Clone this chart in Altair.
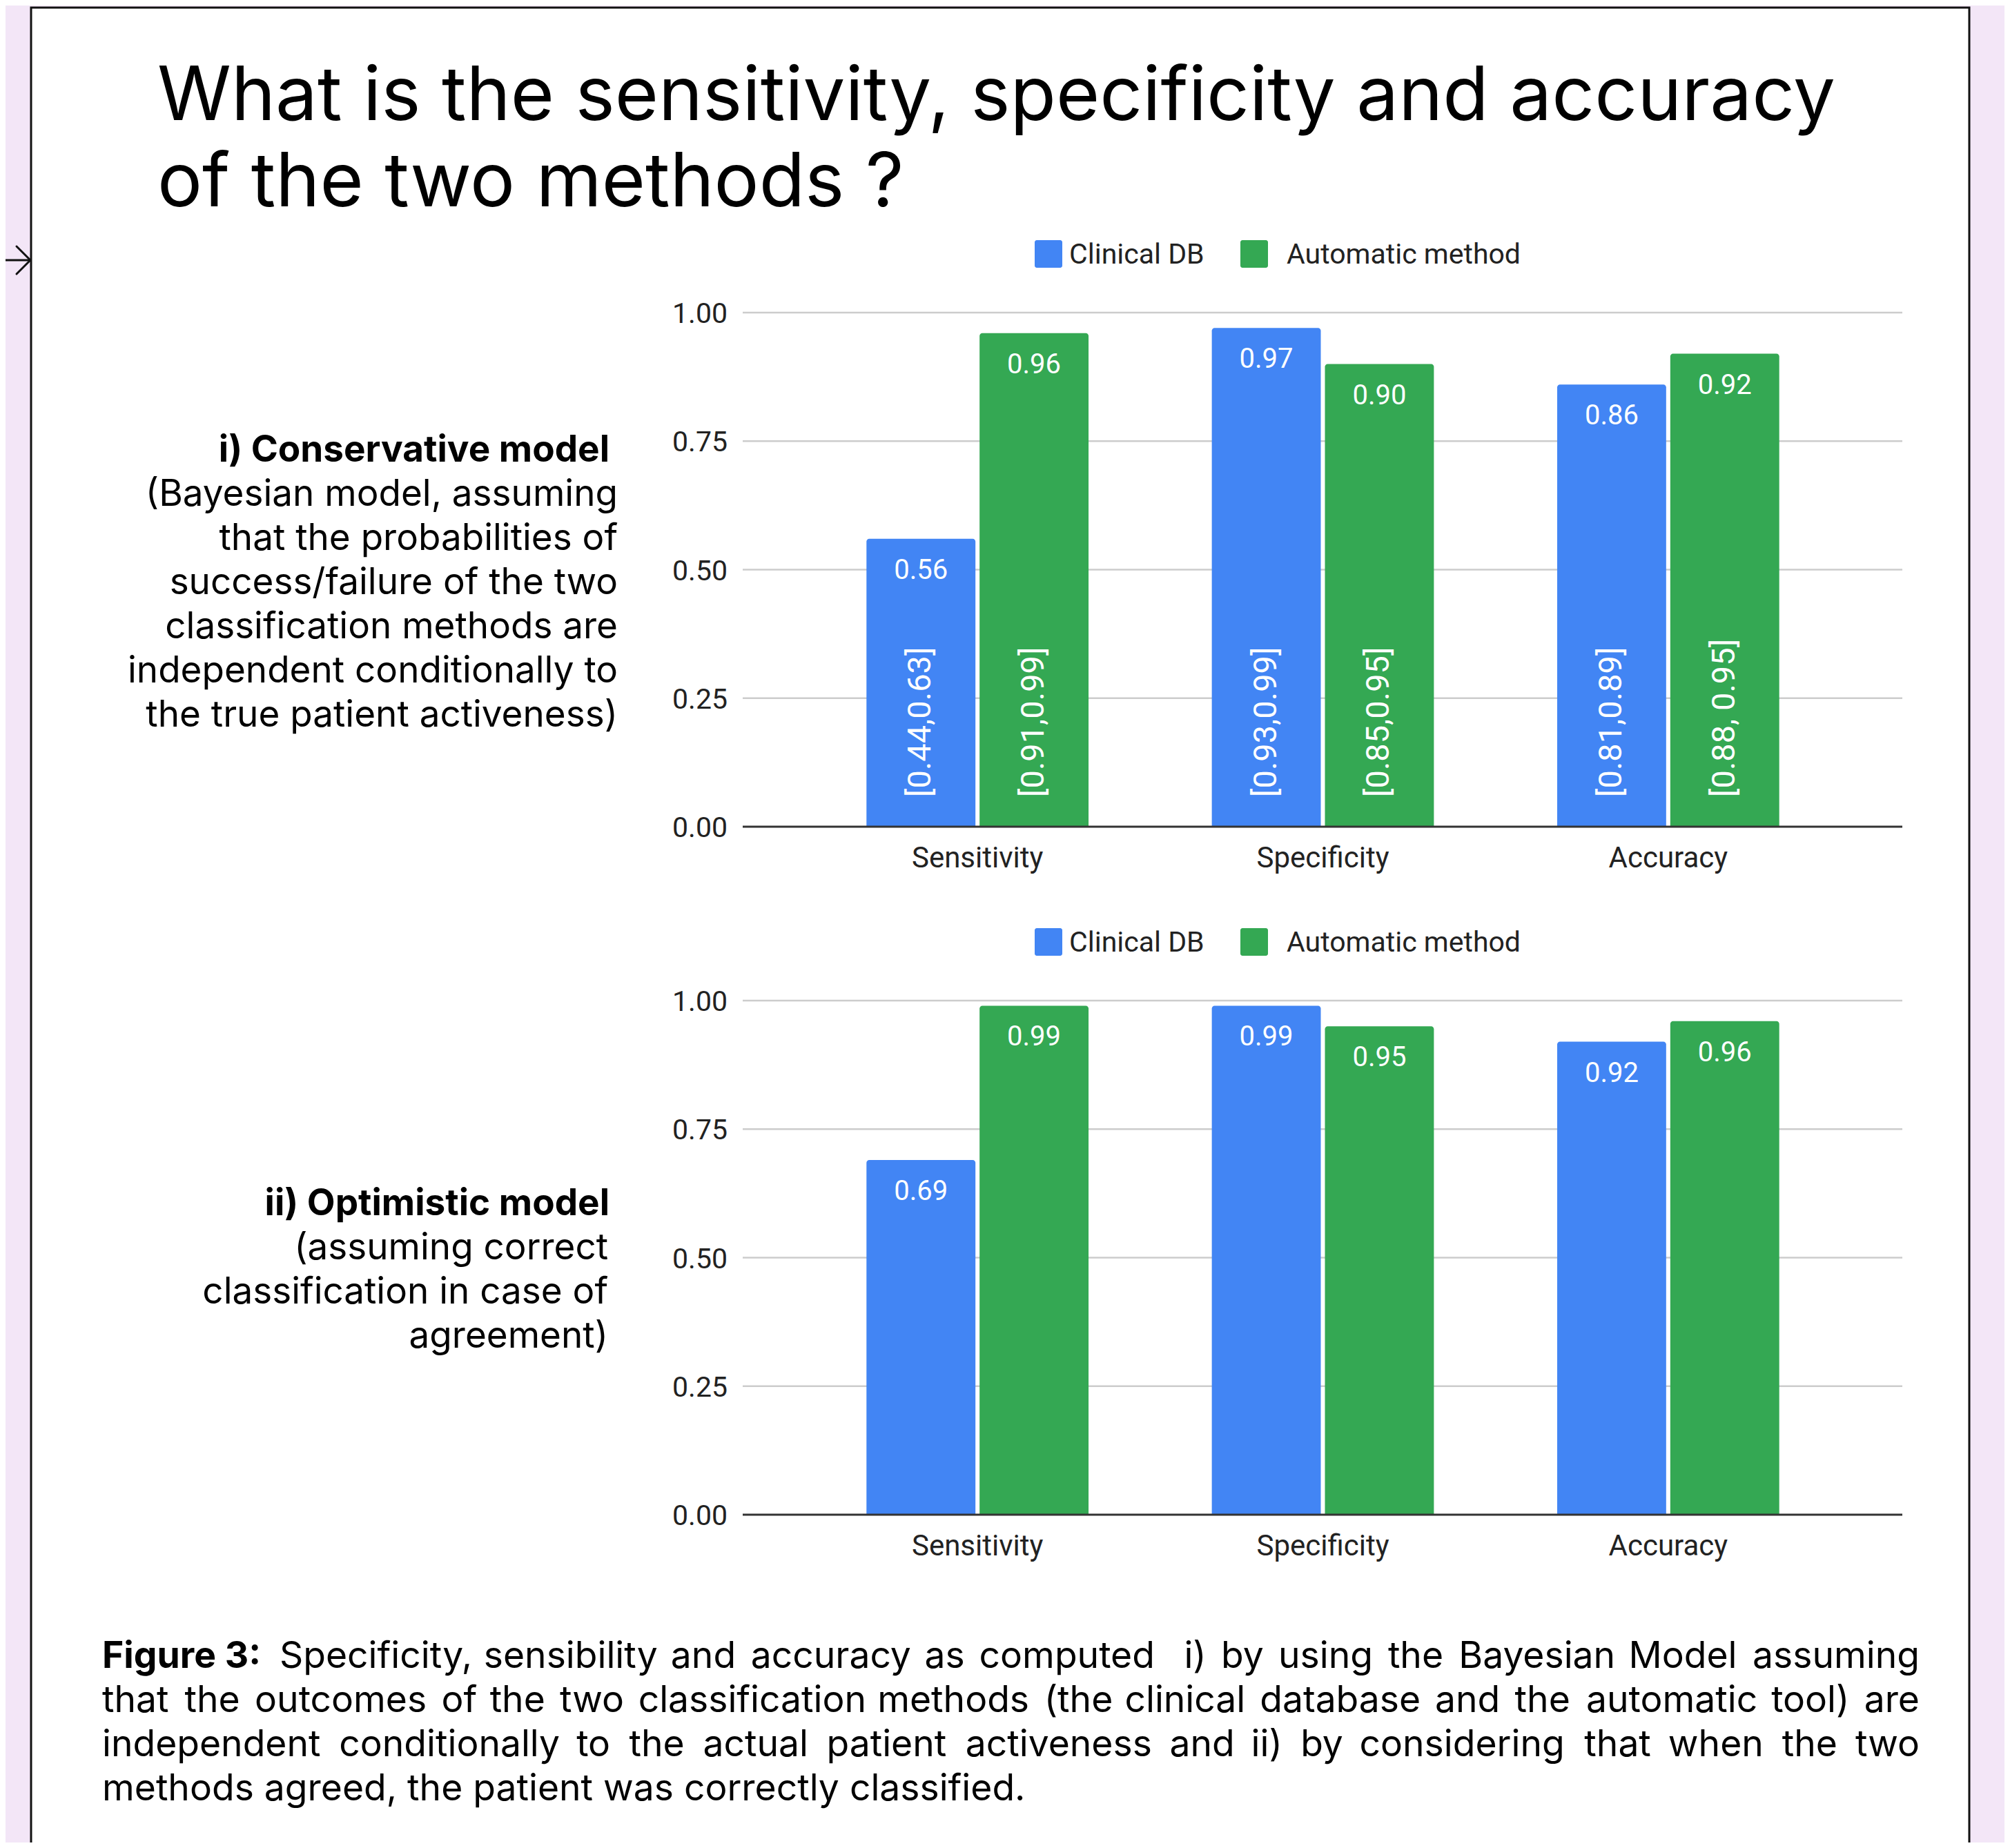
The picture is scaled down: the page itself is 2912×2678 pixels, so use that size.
import altair as alt
import pandas as pd

# ---------------- data ----------------
categories = ["Sensitivity", "Specificity", "Accuracy"]
methods = ["Clinical DB", "Automatic method"]

cons_clinical = [0.56, 0.97, 0.86]
cons_auto = [0.96, 0.90, 0.92]
cons_ci_clinical = ["[0.44,0.63]", "[0.93,0.99]", "[0.81,0.89]"]
cons_ci_auto = ["[0.91,0.99]", "[0.85,0.95]", "[0.88, 0.95]"]

opt_clinical = [0.69, 0.99, 0.92]
opt_auto = [0.99, 0.95, 0.96]

tick_values = [0.0, 0.25, 0.5, 0.75, 1.0]
tick_labels = ["0.00", "0.25", "0.50", "0.75", "1.00"]

title_lines = ["What is the sensitivity, specificity and accuracy",
               "of the two methods ?"]
cons_head = "i) Conservative model"
cons_body = ["(Bayesian model, assuming",
             "that the probabilities of",
             "success/failure of the two",
             "classification methods are",
             "independent conditionally to",
             "the true patient activeness)"]
opt_head = "ii) Optimistic model"
opt_body = ["(assuming correct",
            "classification in case of",
            "agreement)"]
caption_bold = "Figure 3:"
caption_first = "Specificity, sensibility and accuracy as computed  i) by using the Bayesian Model assuming"
caption_mid = ["that the outcomes of the two classification methods (the clinical database and the automatic tool) are",
               "independent conditionally to the actual patient activeness and ii) by considering that when the two"]
caption_last = "methods agreed, the patient was correctly classified."

# ---------------- layout / style ----------------
OFF = 8  # page margin
W, H = 2896, 2662
BLUE, GREEN = "#4285F4", "#34A853"
BG = "#f3e6f7"
SLIDE_FONT = "Inter"
CHART_FONT = "Roboto"
CAP_FS = 53.4

GX0, GX1 = 1076, 2756          # gridline extent
BAND_L, BAND_R = 1166, 2667    # category band range
PI, PO = 0.357, 0.1785
OFF_PI = 0.0366
YL_X = 1054
LSQ = [1499, 1797]
LTX = [1549, 1864]

# approximate relative glyph advances (em) used only to spread words for justification
CW = {" ": 0.27, "a": 0.55, "b": 0.60, "c": 0.54, "d": 0.60, "e": 0.56, "f": 0.33,
      "g": 0.60, "h": 0.58, "i": 0.23, "j": 0.23, "k": 0.52, "l": 0.23, "m": 0.87,
      "n": 0.58, "o": 0.58, "p": 0.60, "q": 0.60, "r": 0.37, "s": 0.51, "t": 0.34,
      "u": 0.58, "v": 0.53, "w": 0.78, "x": 0.52, "y": 0.53, "z": 0.50, ",": 0.25,
      ".": 0.25, "(": 0.33, ")": 0.33, ":": 0.25, "/": 0.38, "B": 0.64, "M": 0.86,
      "S": 0.62, "F": 0.56}

one = pd.DataFrame({"k": [0]})


def P(v):
    return v - OFF


def panel(clin, auto, ci_clin, ci_auto, y0, y1, legend_mid):
    rows = []
    for i, c in enumerate(categories):
        rows.append(dict(category=c, method=methods[0], value=clin[i],
                         label=f"{clin[i]:.2f}", ci=ci_clin[i] if ci_clin else ""))
        rows.append(dict(category=c, method=methods[1], value=auto[i],
                         label=f"{auto[i]:.2f}", ci=ci_auto[i] if ci_auto else ""))
    df = pd.DataFrame(rows)
    ticks = pd.DataFrame({"tick": tick_values, "tlabel": tick_labels})
    cats = pd.DataFrame({"category": categories})

    yscale = alt.Scale(domain=[0, 1], range=[P(y0), P(y1)], nice=False)
    xscale = alt.Scale(domain=categories, range=[P(BAND_L), P(BAND_R)],
                       paddingInner=PI, paddingOuter=PO)
    x = alt.X("category:N", scale=xscale, axis=None, sort=categories)
    xo = alt.XOffset("method:N", sort=methods,
                     scale=alt.Scale(domain=methods, paddingInner=OFF_PI, paddingOuter=0))
    color = alt.Color("method:N", scale=alt.Scale(domain=methods, range=[BLUE, GREEN]),
                      legend=None)

    grid = alt.Chart(ticks).transform_filter(alt.datum.tick > 0).mark_rule(
        color="#cccccc", strokeWidth=2.5).encode(
        y=alt.Y("tick:Q", scale=yscale, axis=None),
        x=alt.value(P(GX0)), x2=alt.value(P(GX1)))

    bars = alt.Chart(df).mark_bar(cornerRadiusTopLeft=4, cornerRadiusTopRight=4).encode(
        x=x, xOffset=xo,
        y=alt.Y("value:Q", scale=yscale, axis=None), y2=alt.datum(0),
        color=color)

    base = alt.Chart(ticks).transform_filter(alt.datum.tick == 0).mark_rule(
        color="#333333", strokeWidth=3).encode(
        y=alt.Y("tick:Q", scale=yscale, axis=None),
        x=alt.value(P(GX0)), x2=alt.value(P(GX1)))

    vals = alt.Chart(df).mark_text(baseline="alphabetic", dy=58, color="white",
                                   font=CHART_FONT, fontSize=40).encode(
        x=x, xOffset=xo, y=alt.Y("value:Q", scale=yscale, axis=None), text="label:N")

    ylab = alt.Chart(ticks).mark_text(align="right", baseline="alphabetic", dy=15,
                                      font=CHART_FONT, fontSize=41, color="#222222").encode(
        y=alt.Y("tick:Q", scale=yscale, axis=None), x=alt.value(P(YL_X)), text="tlabel:N")

    xlab = alt.Chart(cats).mark_text(baseline="alphabetic", font=CHART_FONT, fontSize=42,
                                     color="#222222").encode(
        x=x, y=alt.value(P(y0 + 59)), text="category:N")

    layers = [grid, bars, base, vals]
    if ci_clin:
        ci = alt.Chart(df).mark_text(angle=270, align="left", baseline="middle", dx=43,
                                     color="white", font=CHART_FONT, fontSize=47).encode(
            x=x, xOffset=xo, y=alt.Y(datum=0, scale=yscale, axis=None), text="ci:N")
        layers.append(ci)
    layers += [ylab, xlab]

    for i, m in enumerate(methods):
        mdf = pd.DataFrame({"method": [m]})
        sq = alt.Chart(mdf).mark_rect(cornerRadius=3).encode(
            x=alt.value(P(LSQ[i])), x2=alt.value(P(LSQ[i] + 40)),
            y=alt.value(P(legend_mid - 20)), y2=alt.value(P(legend_mid + 20)),
            color=color)
        tx = alt.Chart(mdf).mark_text(align="left", baseline="alphabetic", font=CHART_FONT,
                                      fontSize=41, color="#222222").encode(
            x=alt.value(P(LTX[i])), y=alt.value(P(legend_mid + 14)), text="method:N")
        layers += [sq, tx]
    return alt.layer(*layers)


def justified(line, x0, x1, nat_w, base_y, fs):
    """Place words of one caption line so that it spans x0..x1 (text-align: justify)."""
    tokens = line.split(" ")
    words, units = [], []
    pending = 0
    for t in tokens:
        if t == "":
            pending += 1
            continue
        units.append(pending if words else 0)
        words.append(t)
        pending = 1
    est = [sum(CW.get(c, 0.56) for c in w) * fs for w in words]
    n_gaps = len(words) - 1
    k = nat_w / (sum(est) + n_gaps * CW[" "] * fs)
    ww = [k * e for e in est]
    unit = (x1 - x0 - sum(ww)) / sum(units)
    left, right = [], []
    pos = x0
    for i, w in enumerate(ww):
        pos += units[i] * unit
        left.append(pos)
        right.append(pos + w)
        pos += w
    shift = x1 - right[-1]
    half = len(words) // 2
    ldf = pd.DataFrame({"w": words[:half], "px": [P(v) for v in left[:half]]})
    rdf = pd.DataFrame({"w": words[half:], "px": [P(v + shift) for v in right[half:]]})
    out = []
    for d, al in ((ldf, "left"), (rdf, "right")):
        out.append(alt.Chart(d).mark_text(align=al, baseline="alphabetic", font=SLIDE_FONT,
                                          fontSize=fs, color="black").encode(
            x=alt.X("px:Q", scale=None, axis=None), y=alt.value(P(base_y)), text="w:N"))
    return out


card = alt.Chart(one).mark_rect(fill="white", stroke="#111111", strokeWidth=3).encode(
    x=alt.value(P(45)), x2=alt.value(P(2853)), y=alt.value(P(11)), y2=alt.value(H + 50))

arrow_parts = [((0, 377), (44, 377)), ((44, 377), (24, 357)), ((44, 377), (24, 397))]
arrows = [alt.Chart(one).mark_rule(color="#111111", strokeWidth=3, strokeCap="round").encode(
    x=alt.value(P(a[0])), y=alt.value(P(a[1])), x2=alt.value(P(b[0])), y2=alt.value(P(b[1])))
    for a, b in arrow_parts]

title = alt.Chart(one).mark_text(align="left", baseline="alphabetic", font=SLIDE_FONT,
                                 fontSize=108.5, lineHeight=125, color="black").encode(
    x=alt.value(P(228)), y=alt.value(P(174)), text=alt.value(title_lines))


def side_text(head, body, x_head, x_body, base):
    h = alt.Chart(one).mark_text(align="right", baseline="alphabetic", font=SLIDE_FONT,
                                 fontWeight="bold", fontSize=53, color="black").encode(
        x=alt.value(P(x_head)), y=alt.value(P(base)), text=alt.value(head))
    b = alt.Chart(one).mark_text(align="right", baseline="alphabetic", font=SLIDE_FONT,
                                 fontSize=53, lineHeight=64, color="black").encode(
        x=alt.value(P(x_body)), y=alt.value(P(base + 64)), text=alt.value(body))
    return [h, b]


CAP_X0, CAP_X1, CAP_Y = 148, 2781, 2417
cap_b = alt.Chart(one).mark_text(align="left", baseline="alphabetic", font=SLIDE_FONT,
                                 fontWeight="bold", fontSize=CAP_FS, color="black").encode(
    x=alt.value(P(CAP_X0)), y=alt.value(P(CAP_Y)), text=alt.value(caption_bold))
cap_lines = []
cap_lines += justified(caption_first, 405, CAP_X1, 2285, CAP_Y, CAP_FS)
cap_lines += justified(caption_mid[0], CAP_X0, CAP_X1, 2550, CAP_Y + 64, CAP_FS)
cap_lines += justified(caption_mid[1], CAP_X0, CAP_X1, 2477, CAP_Y + 128, CAP_FS)
cap_last = alt.Chart(one).mark_text(align="left", baseline="alphabetic", font=SLIDE_FONT,
                                    fontSize=CAP_FS, color="black").encode(
    x=alt.value(P(CAP_X0)), y=alt.value(P(CAP_Y + 192)), text=alt.value(caption_last))

p1 = panel(cons_clinical, cons_auto, cons_ci_clinical, cons_ci_auto, 1198, 453, 368)
p2 = panel(opt_clinical, opt_auto, None, None, 2195, 1450, 1365)

chart = alt.layer(
    card, *arrows, title,
    *side_text(cons_head, cons_body, 883, 895, 669),
    *side_text(opt_head, opt_body, 883, 881, 1761),
    cap_b, *cap_lines, cap_last,
    p1, p2,
).resolve_scale(x="independent", y="independent", xOffset="independent").properties(
    width=W, height=H, padding=0,
    autosize=alt.AutoSizeParams(type="none"),
    background=BG,
).configure_view(stroke=None)

chart.save("out.html", embed_options={"renderer": "svg", "actions": False})
